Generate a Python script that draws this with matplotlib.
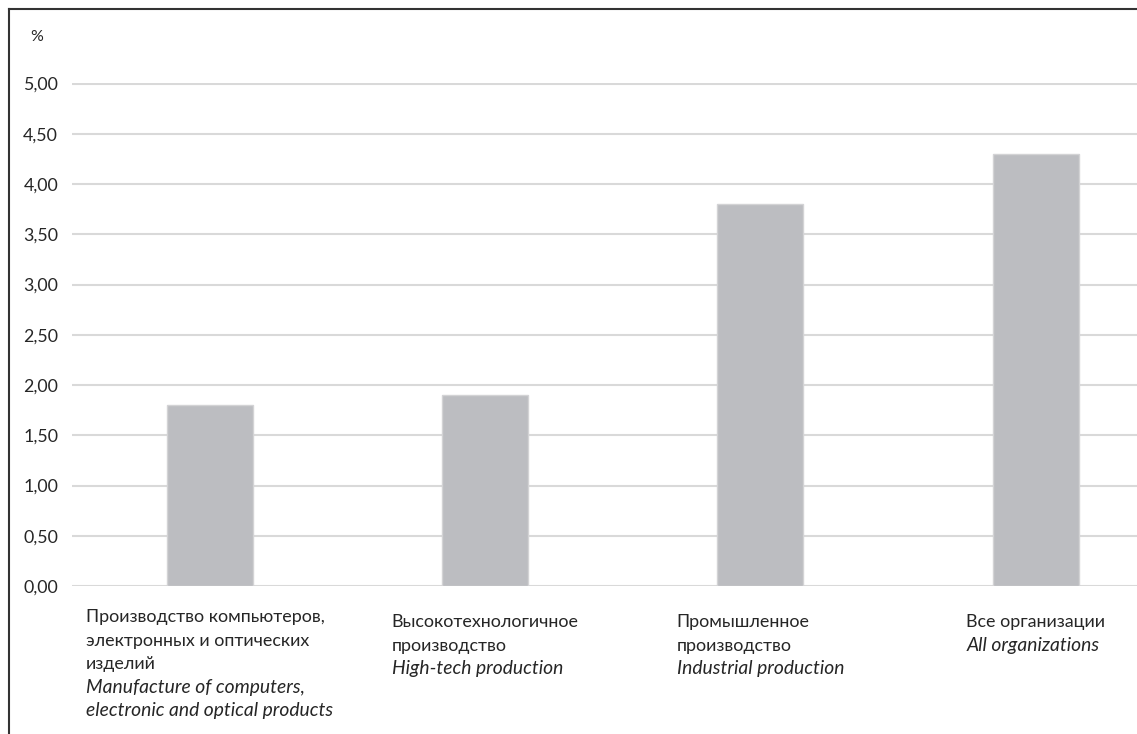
import matplotlib
matplotlib.use("Agg")
import matplotlib.pyplot as plt
import matplotlib.transforms as mtransforms
from matplotlib.lines import Line2D

categories_ru = [
    ["Производство компьютеров,", "электронных и оптических", "изделий"],
    ["Высокотехнологичное", "производство"],
    ["Промышленное", "производство"],
    ["Все организации"],
]
categories_en = [
    ["Manufacture of computers,", "electronic and optical products"],
    ["High-tech production"],
    ["Industrial production"],
    ["All organizations"],
]
values = [1.80, 1.90, 3.80, 4.30]
yticks = [0.0, 0.5, 1.0, 1.5, 2.0, 2.5, 3.0, 3.5, 4.0, 4.5, 5.0]
unit_label = "%"

W, H = 1137, 734
plt.rcParams['font.family'] = ['Lato', 'DejaVu Sans']
text_color = "#262626"

fig = plt.figure(figsize=(W / 100, H / 100), dpi=100)
ax = fig.add_axes([72 / W, (H - 586) / H, 1 - 72 / W, (586 - 83) / H])

x = list(range(len(values)))
ax.bar(x, values, width=0.312, color="#BCBDC1", edgecolor="#D3D3D5", linewidth=1.0, zorder=3)

ax.set_xlim(-0.5, 3.368)
ax.set_ylim(0, 5.005)
ax.set_yticks(yticks)
ax.set_yticklabels([f"{v:.2f}".replace(".", ",") for v in yticks], fontsize=12.8, color=text_color)
ax.tick_params(axis="y", length=0, pad=10)
ax.set_xticks([])
for s in ax.spines.values():
    s.set_visible(False)
ax.yaxis.grid(True, color="#D9D9D9", linewidth=1.5, zorder=0)
ax.set_axisbelow(True)

fig.text(30 / W, 1 - 37 / H, unit_label, fontsize=11.5, color=text_color, ha="left", va="center")

# frame lines
fig.add_artist(Line2D([9 / W, 1], [1 - 8.5 / H, 1 - 8.5 / H], color="#333333", linewidth=1.5))
fig.add_artist(Line2D([9 / W, 9 / W], [0, 1 - 8.5 / H], color="#333333", linewidth=1.5))

# category labels (left-aligned block centred under each bar)
fig.canvas.draw()
renderer = fig.canvas.get_renderer()
line_h = 23.4
for i, (ru, en) in enumerate(zip(categories_ru, categories_en)):
    lines = [(t, "normal", 12.9) for t in ru] + [(t, "italic", 13.9) for t in en]
    n = len(lines)
    base_px = 622.3 if n > 3 else 627.3
    objs = []
    for j, (t, style, fs) in enumerate(lines):
        tr = ax.get_xaxis_transform() + mtransforms.ScaledTranslation(
            0, -(base_px - 586 + j * line_h) / 100, fig.dpi_scale_trans)
        o = ax.text(i, 0, t, fontsize=fs, style=style, color=text_color,
                    ha="left", va="baseline", transform=tr, clip_on=False)
        objs.append(o)
    widths = [o.get_window_extent(renderer).width for o in objs]
    maxw = max(widths)
    for o in objs:
        o.set_transform(o.get_transform() + mtransforms.Affine2D().translate(-maxw / 2, 0))

fig.savefig("out.png", dpi=100)
